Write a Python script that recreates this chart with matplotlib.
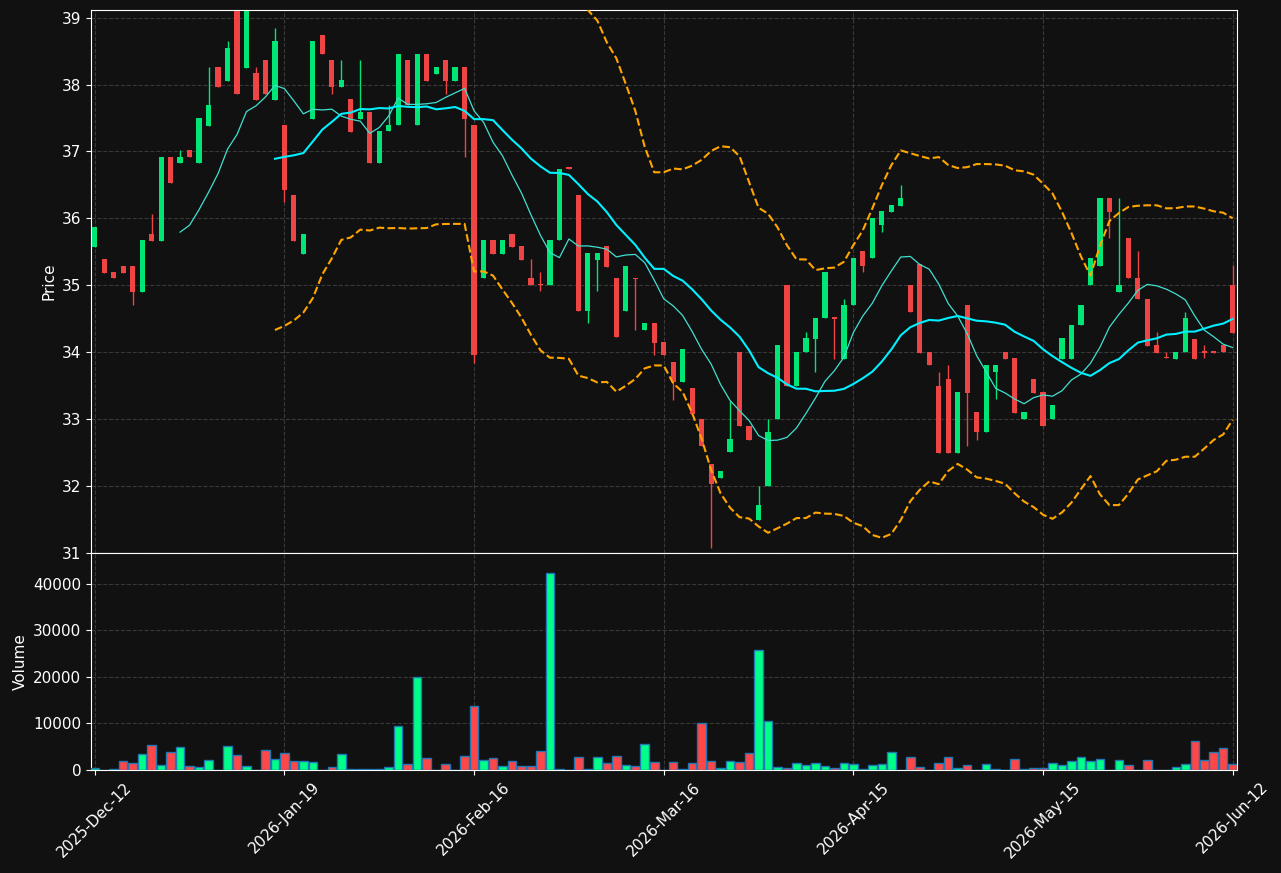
import matplotlib
matplotlib.use("Agg")
import matplotlib.pyplot as plt
import numpy as np
import pandas as pd

tick_labels = ["2025-Dec-12", "2026-Jan-19", "2026-Feb-16", "2026-Mar-16",
               "2026-Apr-15", "2026-May-15", "2026-Jun-12"]

opens = [35.57, 35.39, 35.2, 35.28, 35.28, 34.9, 35.77, 35.66, 36.92, 36.82,
         37.02, 36.82, 37.38, 38.26, 38.06, 39.1, 38.25, 38.17, 38.37, 37.77,
         37.39, 36.35, 35.47, 37.49, 38.74, 38.37, 37.97, 37.78, 37.49, 37.59,
         36.82, 37.3, 37.39, 38.37, 37.39, 38.45, 38.16, 38.37, 38.06, 38.26,
         37.39, 35.1, 35.67, 35.47, 35.77, 35.58, 35.11, 35.01, 35.0, 35.67,
         36.75, 36.35, 34.62, 35.38, 35.58, 35.11, 34.62, 35.11, 34.33, 34.43,
         34.15, 33.85, 33.55, 33.47, 33.0, 32.33, 32.12, 32.5, 34.0, 32.9,
         31.49, 32.0, 33.0, 35.0, 33.5, 34.0, 34.2, 34.51, 34.51, 33.9,
         34.7, 35.51, 35.4, 35.9, 36.1, 36.19, 35.0, 35.31, 34.0, 33.5,
         33.6, 32.49, 34.7, 33.1, 32.8, 33.7, 34.0, 33.91, 33.0, 33.6,
         33.4, 33.0, 33.9, 33.9, 34.4, 35.0, 35.28, 36.3, 34.9, 35.71,
         35.11, 34.8, 34.1, 33.92, 33.9, 34.0, 34.2, 34.0, 34.0, 34.1, 35.0]
closes = [35.87, 35.18, 35.1, 35.18, 34.9, 35.67, 35.66, 36.92, 36.53, 36.92,
          36.91, 37.5, 37.7, 37.97, 38.55, 37.86, 39.1, 37.77, 37.86, 38.65,
          36.43, 35.66, 35.77, 38.65, 38.45, 37.97, 38.07, 37.29, 37.59, 36.82,
          37.3, 37.39, 38.45, 37.7, 38.45, 38.06, 38.26, 38.06, 38.26, 37.49,
          33.95, 35.67, 35.47, 35.67, 35.57, 35.38, 35.0, 35.0, 35.67, 36.74,
          36.74, 34.62, 35.48, 35.48, 35.27, 34.23, 35.28, 35.09, 34.43, 34.14,
          33.95, 33.55, 34.05, 33.08, 32.6, 32.03, 32.22, 32.7, 32.9, 32.69,
          31.71, 32.8, 34.1, 33.5, 34.0, 34.21, 34.51, 35.2, 34.5, 34.7,
          35.41, 35.28, 36.0, 36.11, 36.2, 36.3, 34.6, 33.99, 33.8, 32.49,
          32.49, 33.4, 33.39, 32.8, 33.81, 33.81, 33.9, 33.09, 33.1, 33.39,
          32.9, 33.21, 34.21, 34.41, 34.7, 35.41, 36.3, 36.1, 35.0, 35.1,
          34.8, 34.09, 33.99, 33.91, 34.0, 34.51, 33.9, 33.99, 33.99, 34.0, 34.29]
# extra wick extremes (index: value), others follow the body
highs_extra = {4: 35.28, 6: 36.06, 9: 37.02, 12: 38.26, 14: 38.65, 17: 38.26,
               19: 38.84, 26: 38.36, 28: 38.36, 31: 37.7, 46: 35.39, 47: 35.2,
               67: 33.27, 70: 32.0, 71: 33.0, 75: 34.3, 79: 34.8, 85: 36.5,
               89: 33.7, 90: 33.8, 108: 36.3, 110: 35.51, 112: 34.3, 113: 34.0,
               115: 34.6, 117: 34.1, 120: 35.3}
lows_extra = {4: 34.71, 20: 36.25, 25: 37.86, 37: 37.86, 39: 36.91, 40: 33.84,
              47: 34.91, 52: 34.43, 53: 34.91, 57: 34.33, 59: 33.95, 61: 33.28,
              65: 31.07, 76: 33.7, 78: 33.9, 81: 35.19, 83: 35.79, 92: 32.6,
              93: 32.69, 95: 33.3, 107: 35.7, 117: 33.91}
volumes = [500, 100, 300, 2000, 1600, 3500, 5400, 1150, 3900, 5000,
           900, 700, 2200, 100, 5200, 3300, 900, 100, 4300, 2400,
           3700, 2000, 2000, 1800, 50, 700, 3500, 300, 250, 250,
           300, 700, 9500, 1350, 19900, 2600, 100, 1350, 100, 3100,
           13700, 2200, 2600, 900, 2000, 900, 900, 4100, 42300, 300,
           50, 2850, 300, 2850, 1600, 3100, 1150, 900, 5600, 1800,
           50, 1800, 300, 1600, 10100, 2000, 500, 2000, 1800, 3700,
           25700, 10500, 700, 500, 1600, 1150, 1600, 900, 500, 1600,
           1350, 300, 1150, 1350, 3900, 50, 2850, 700, 100, 1600,
           2850, 500, 1150, 100, 1350, 300, 50, 2400, 300, 500,
           500, 1600, 1150, 2000, 2850, 2000, 2400, 100, 2200, 1150,
           100, 2200, 100, 50, 700, 1350, 6300, 2200, 3900, 4800, 1350]

df = pd.DataFrame({"open": opens, "close": closes, "volume": volumes})
df["high"] = df[["open", "close"]].max(axis=1)
df["low"] = df[["open", "close"]].min(axis=1)
for k, v in highs_extra.items():
    df.loc[k, "high"] = v
for k, v in lows_extra.items():
    df.loc[k, "low"] = v

df["ma10"] = df["close"].rolling(10).mean()
df["ma20"] = df["close"].rolling(20).mean()
std20 = df["close"].rolling(20).std(ddof=0)
df["bb_up"] = df["ma20"] + 2 * std20
df["bb_low"] = df["ma20"] - 2 * std20

BG = "#111111"
GREEN = "#00e676"
RED = "#ef4444"
VGREEN = "#00ff88"
VRED = "#ff4747"

x = np.arange(len(df))
# doji candles with close just under open draw red
up = df["close"] > df["open"]

fig, (ax, axv) = plt.subplots(2, 1, figsize=(12.81, 8.73), dpi=100, sharex=True,
                              gridspec_kw={"height_ratios": [2.5, 1], "hspace": 0})
fig.patch.set_facecolor(BG)
fig.subplots_adjust(left=0.071, right=0.966, top=0.989, bottom=0.118)

colors = np.where(up, GREEN, RED)
ax.vlines(x, df["low"], df["high"], colors=colors, linewidth=1, zorder=2)
body = (df["close"] - df["open"]).abs().clip(lower=0.02)
ax.bar(x, body, bottom=df[["open", "close"]].min(axis=1), width=0.55,
       color=colors, zorder=3)

ax.plot(x, df["ma10"], color="#40e0d0", linewidth=0.9, zorder=4)
ax.plot(x, df["ma20"], color="#00f0ff", linewidth=1.5, zorder=4)
ax.plot(x, df["bb_up"], color="orange", linewidth=1.5, linestyle="--", zorder=4)
ax.plot(x, df["bb_low"], color="orange", linewidth=1.5, linestyle="--", zorder=4)

vcolors = np.where(up, VGREEN, VRED)
axv.bar(x, df["volume"], width=0.9, color=vcolors, edgecolor="#1f77b4",
        linewidth=1, zorder=3)

for a in (ax, axv):
    a.set_facecolor(BG)
    a.grid(True, color="#444444", linestyle="--", linewidth=0.8, alpha=0.8)
    a.tick_params(colors="white", labelsize=11)
    for s in a.spines.values():
        s.set_color("white")

ax.set_ylim(31, 39.12)
ax.set_ylabel("Price", color="white", fontsize=11)
axv.set_ylim(0, 46700)
axv.set_yticks([0, 10000, 20000, 30000, 40000])
axv.set_ylabel("Volume", color="white", fontsize=11)
axv.set_xlim(-0.4, 120.5)
axv.set_xticks(np.arange(0, 121, 20))
axv.set_xticklabels(tick_labels, rotation=45)
ax.tick_params(axis="x", labelbottom=False)

fig.savefig("out.png", dpi=100, facecolor=BG)
